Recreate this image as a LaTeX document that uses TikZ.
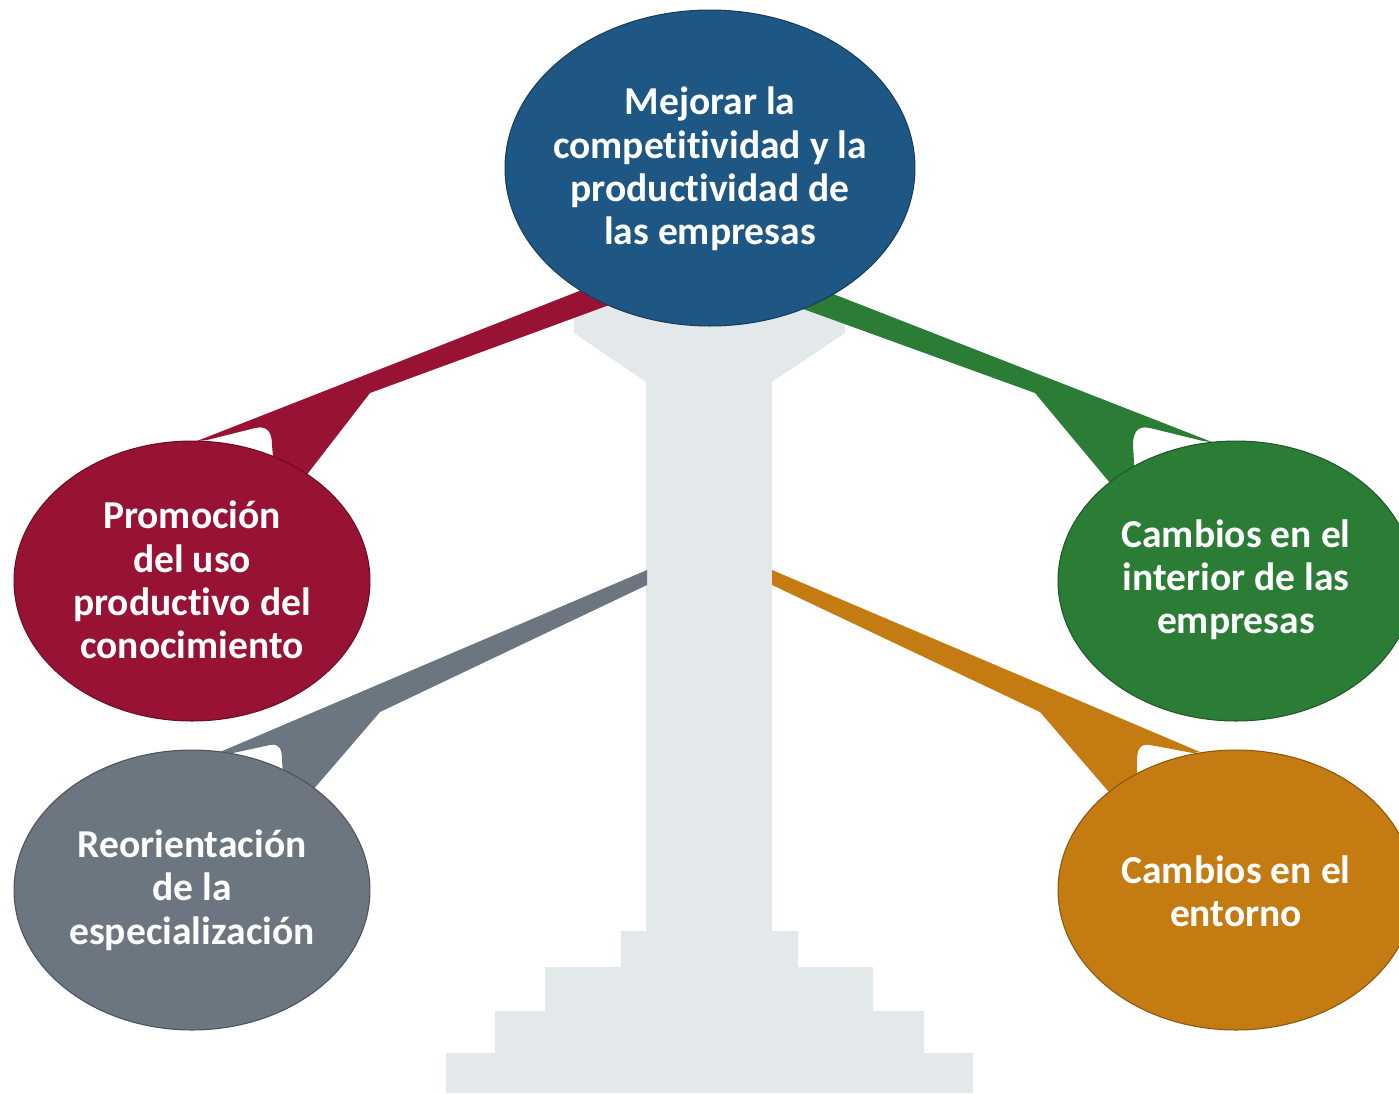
\documentclass[tikz,border=0pt]{standalone}
\usepackage{fontspec}
\setmainfont{Carlito}[Ligatures=NoCommon]
\usepackage{tikz}
\usetikzlibrary{shapes.geometric}
\definecolor{mblue}{HTML}{1F5784}
\definecolor{mred}{HTML}{981233}
\definecolor{mgreen}{HTML}{2B7D35}
\definecolor{morange}{HTML}{C47B12}
\definecolor{mslate}{HTML}{6C7680}
\definecolor{mpale}{HTML}{E3E8EB}

\begin{document}
\begin{tikzpicture}[x=0.02cm, y=-0.02cm,
    bubble/.style={ellipse, fill=#1, draw=#1!70!black, line width=0.6pt, inner sep=0pt},
    bigbubble/.style={bubble=#1, minimum width=8.2cm, minimum height=6.32cm},
    smallbubble/.style={bubble=#1, minimum width=7.12cm, minimum height=5.6cm},
    txt/.style={text=white, align=center, font=\bfseries\fontsize{22.5}{24.6}\selectfont}]
    \useasboundingbox (0, 0) rectangle (1399, 1093);
    \clip (0, 0) rectangle (1399, 1093);

    % pedestal
    \fill [mpale] (574, 300) -- (845, 300) -- (845, 333) -- (772, 382) -- (772, 931)
      -- (798, 931) -- (798, 967) -- (873, 967) -- (873, 1011) -- (924, 1011)
      -- (924, 1053) -- (973, 1053) -- (973, 1093) -- (446, 1093) -- (446, 1053)
      -- (495, 1053) -- (495, 1011) -- (545, 1011) -- (545, 967) -- (621, 967)
      -- (621, 931) -- (646, 931) -- (646, 382) -- (574, 333) -- cycle;

    % arms
    \fill [mslate] (647, 570) -- (220, 752) -- (233, 753) -- (270, 745)
      .. controls (280, 743) and (282, 750) .. (282, 760) -- (284, 790)
      -- (300, 805) -- (380, 712) -- (647, 585) -- cycle;
    \fill [morange] (772, 570) -- (1200, 752) -- (1193, 753) -- (1150, 745)
      .. controls (1140, 743) and (1137, 750) .. (1137, 760) -- (1137, 790)
      -- (1120, 805) -- (1040, 712) -- (772, 585) -- cycle;
    \fill [mred] (615, 277) -- (197, 441) -- (207, 440) -- (255, 428)
      .. controls (268, 425) and (272, 433) .. (272, 445) -- (275, 480)
      -- (295, 490) -- (370, 393) -- (650, 290) -- cycle;
    \fill [mgreen] (800, 281) -- (1212, 442) -- (1203, 441) -- (1150, 428)
      .. controls (1137, 425) and (1133, 433) .. (1133, 445) -- (1135, 480)
      -- (1120, 495) -- (1035, 393) -- (770, 297) -- cycle;

    % ellipses
    \node [bigbubble=mblue] (goal) at (710, 168) {};
    \node [smallbubble=mred] (promo) at (192, 581) {};
    \node [smallbubble=mslate] (reor) at (192, 890) {};
    \node [smallbubble=mgreen] (inner) at (1236, 581) {};
    \node [smallbubble=morange] (env) at (1236, 890) {};

    \node [txt] (goaltxt) at (710, 169) {Mejorar la\\competitividad y la\\productividad de\\las empresas};
    \node [txt] (promotxt) at (192, 580) {Promoción\\del uso\\productivo del\\conocimiento};
    \node [txt] (reortxt) at (192, 890) {Reorientación\\de la\\especialización};
    \node [txt] (innertxt) at (1236, 580) {Cambios en el\\interior de las\\empresas};
    \node [txt] (envtxt) at (1236, 891) {Cambios en el\\entorno};
  \end{tikzpicture}
\end{document}
